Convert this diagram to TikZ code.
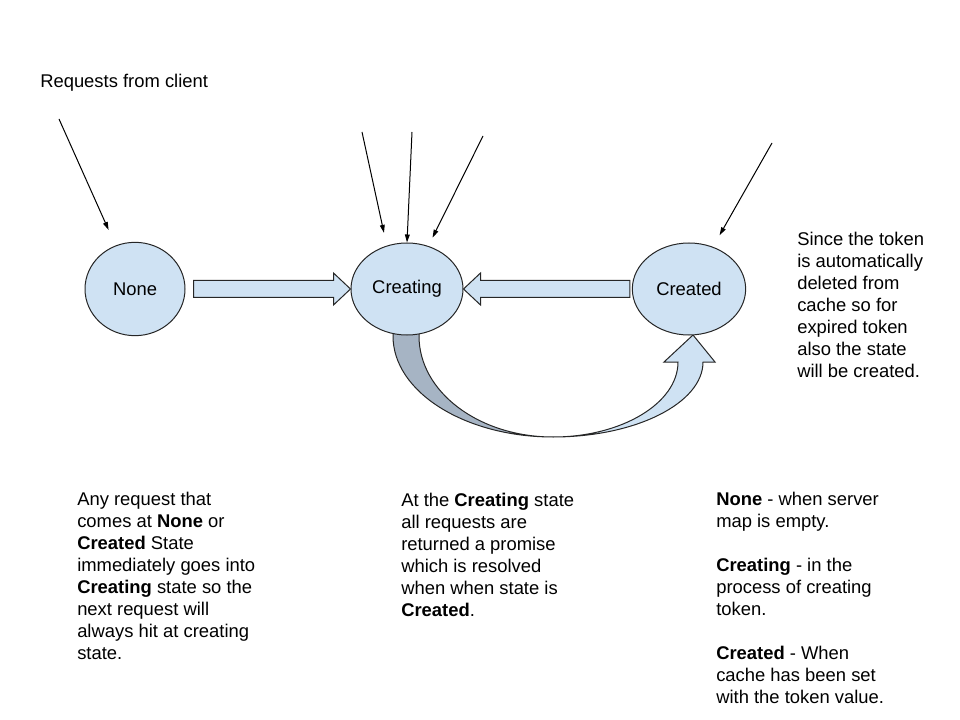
\documentclass[tikz,border=0pt]{standalone}
\usepackage{fontspec}
\setmainfont{Liberation Sans}
\usetikzlibrary{positioning,arrows.meta,calc,shapes.geometric}
\definecolor{statefill}{HTML}{CFE2F3}
\definecolor{backfill}{RGB}{166,180,196}

\begin{document}
\begin{tikzpicture}[x=0.75pt,y=-0.75pt,
  every node/.style={font=\fontsize{13.8}{16.5}\selectfont},
  state/.style={ellipse,draw=black!85,fill=statefill,line width=0.75pt,inner sep=0pt},
  blockarrow/.style={draw=black!85,fill=statefill,line width=0.75pt},
  req/.style={-{Triangle[length=6pt,width=3.6pt]},line width=0.75pt},
  note/.style={anchor=north west,align=left,inner sep=0pt}]
  \useasboundingbox (0,0) rectangle (960,720);

  % loop back from Creating to Created
  \draw[blockarrow,fill=backfill] (393,320) -- (393,336) .. controls (393,392) and (465,437) .. (553,437)
    .. controls (479,437) and (419,392) .. (419,336) -- (419,320) -- cycle;
  \draw[blockarrow] (553,437) .. controls (636,437) and (703,403) .. (703,362) -- (715,362) -- (693,335)
    -- (664,362) -- (678,362) .. controls (678,403) and (622,437) .. (553,437) -- cycle;

  % states
  \node[state,minimum width=75pt,minimum height=70pt] (none) at (135,289) {None};
  \node[state,minimum width=84pt,minimum height=69pt] (creating) at (407,289) {Creating};
  \node[state,minimum width=85pt,minimum height=69pt] (created) at (689,289) {Created};

  % block arrows
  \draw[blockarrow] ($(none.east)+(8,-8.5)$) -- ($(creating.west)+(-17,-8.5)$) -- ($(creating.west)+(-17,-16)$)
    -- (creating.west) -- ($(creating.west)+(-17,16)$) -- ($(creating.west)+(-17,8.5)$) -- ($(none.east)+(8,8.5)$) -- cycle;
  \draw[blockarrow] ($(created.west)+(-2,-8.5)$) -- ($(creating.east)+(17,-8.5)$) -- ($(creating.east)+(17,-16)$)
    -- (creating.east) -- ($(creating.east)+(17,16)$) -- ($(creating.east)+(17,8.5)$) -- ($(created.west)+(-2,8.5)$) -- cycle;

  % requests
  \node[anchor=base west,inner sep=0pt] (reqlabel) at (40,88) {Requests from client};
  \coordinate (r1) at (59,119);
  \coordinate (r2) at (362,132);
  \coordinate (r3) at (412,132);
  \coordinate (r4) at (483,136);
  \coordinate (r5) at (772,143);
  \draw[req,shorten >=12.75pt] (r1) -- (none);
  \draw[req,shorten >=9.75pt] (r2) -- (creating.115);
  \draw[req] (r3) -- (creating.north);
  \draw[req,shorten >=7pt] (r4) -- (creating);
  \draw[req,shorten >=10pt] (r5) -- (created);

  % notes
  \node[note] (expired) at (797,232) {Since the token\\is automatically\\deleted from\\cache so for\\expired token\\also the state\\will be created.};
  \node[note] (anyreq) at (77,492) {Any request that\\comes at \textbf{None} or\\\textbf{Created} State\\immediately goes into\\\textbf{Creating} state so the\\next request will\\always hit at creating\\state.};
  \node[note] (promise) at (401,493) {At the \textbf{Creating} state\\all requests are\\returned a promise\\which is resolved\\when when state is\\\textbf{Created}.};
  \node[note] (legend) at (716,492) {\textbf{None} - when server\\map is empty.\\[16.5pt]\textbf{Creating} - in the\\process of creating\\token.\\[16.5pt]\textbf{Created} - When\\cache has been set\\with the token value.};
\end{tikzpicture}
\end{document}
